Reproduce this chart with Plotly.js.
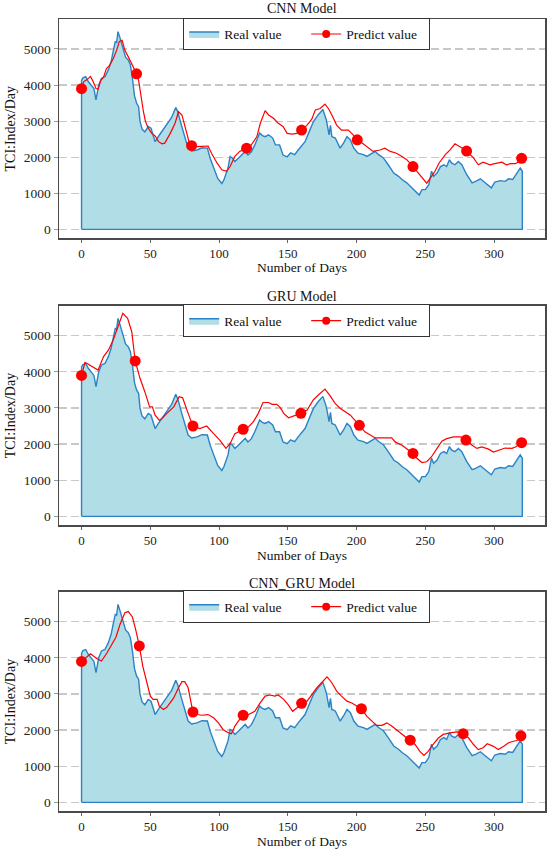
<!DOCTYPE html>
<html>
<head>
<meta charset="utf-8">
<script src="https://cdn.plot.ly/plotly-3.0.1.min.js"></script>
<style>html,body{margin:0;padding:0;background:#fff;} #chart{width:550px;height:851px;}</style>
</head>
<body>
<div id="chart"></div>
<script>
// ---------------- DATA ----------------
const realDays = [0,1,3,5,7,9,10.5,12.5,14.5,17,19.5,21.5,23,24.5,25.5,26.5,28,30,32,34,35.5,37,38.5,40,41.5,42.5,44,46,48.5,50.5,53.5,56,58.5,62,65.5,68.5,70,72.5,75,77.5,80,84,87.5,91.5,93.5,96,99,102,103.5,106.5,108,109.5,111.5,114,116.5,119,121,123.5,126,129.5,131.5,133.5,136,139,141,144,146.5,149.5,152,155,157.5,160,162.5,165,168.5,172,175.5,178,180,181,182,184.5,188,190.5,193,195.5,198,201,205,207.5,211,213.5,216,219.5,223,227,230.5,233,236.5,240,244,245.5,247.5,250,252.5,254.5,256,258.5,261,263.5,265.5,267.5,269,271.5,274,276.5,280,284,286.5,290,293.5,298,300.5,304.5,308,310.5,313.5,316,319,320.5];
const realVals = [4130,4200,4230,4090,3980,3900,3590,4000,4190,4230,4420,4650,4930,5200,5180,5480,5300,5030,4770,4690,4560,4190,3700,3500,3400,3000,2780,2700,2850,2800,2430,2580,2710,2900,3100,3380,3250,2900,2550,2250,2170,2200,2260,2250,1970,1690,1410,1270,1370,1700,2020,1980,1880,1970,2060,2160,2060,2150,2340,2670,2600,2570,2620,2530,2340,2340,2060,2010,2120,2070,2200,2300,2430,2660,2980,3170,3320,3030,2620,2880,2570,2530,2250,2390,2570,2480,2250,2110,2070,2020,2110,2160,2070,1980,1790,1560,1470,1380,1290,1150,1010,950,1100,1100,1240,1610,1470,1560,1740,1790,1740,1930,1840,1790,1880,1790,1520,1290,1330,1400,1290,1150,1310,1350,1330,1400,1380,1520,1700,1610];

const cnnDays = [0,1.5,4,6.5,8.5,10.5,12,14,16,18,20.5,23,25.5,27.5,29.5,31.5,34,36.5,38.5,40,41.5,43,45,46.5,48.5,51,53.5,56,58.5,60.5,64.5,68,70.5,73,74,76.5,78,80,84,87.5,92,94.5,98.5,102,105.5,108,111.5,115,120,123.5,127.5,130,132,133.5,136,139.5,143,146.5,149.5,153,156.5,160,164,167.5,170,173.5,177,179.5,182,185.5,189,194,197.5,200.5,204,207.5,212,217,220.5,224.5,229,233,236.5,241,245,248.5,251,254.5,257,260,264.5,268,271.5,275.5,280,285,288.5,292,297,300.5,305.5,309,312,315.5,318,320];
const cnnVals = [3900,4090,4150,4240,4090,3900,3880,4130,4220,4450,4550,4730,4960,5210,5240,4960,4780,4590,4420,4310,4130,3720,3260,2990,2800,2660,2590,2430,2370,2390,2660,2940,3260,3170,3030,2660,2450,2320,2290,2300,2310,2110,1840,1650,1610,1740,2020,2160,2250,2340,2570,2940,3170,3290,3170,3080,2940,2850,2660,2640,2660,2750,2890,3060,3310,3350,3470,3350,3170,2890,2750,2750,2620,2480,2390,2290,2160,2200,2250,2160,2110,2020,1930,1740,1560,1380,1280,1470,1610,1840,2070,2200,2370,2280,2170,1980,1790,1860,1790,1820,1860,1790,1820,1820,1880,1970];
const cnnMarkDays = [0,40,80,120,160,200.5,241,280,320];

const gruDays = [0,2.5,4,12,16,19.5,23,27,30,33.5,36.5,39,42.5,46,49.5,51.5,53.5,56.5,58.5,62,67,71,73.5,77.5,81,86,91,96,100.5,105,108,111.5,117.5,121.5,125,128.5,132,136,138.5,142,144.5,147,150.5,154,159.5,164,168.5,172,177,180.5,184.5,188,193,195.5,202,206,210,213.5,225.5,228,233,236.5,241,244,247.5,251,254.5,258.5,262,265.5,270.5,275.5,279.5,284,287.5,291,296,299.5,303,308,313,315.5,320];
const gruVals = [3900,4260,4230,4050,4420,4600,4880,5300,5620,5480,5110,4300,3820,3450,3030,3030,2800,2660,2710,2850,3030,3310,3280,2850,2500,2430,2500,2290,2110,1880,2010,2290,2410,2480,2620,2850,3150,3150,3100,3100,3010,2850,2730,2780,2850,2940,3220,3350,3520,3350,3120,2990,2850,2800,2520,2340,2250,2170,2170,2060,1970,1880,1740,1600,1490,1510,1650,1880,2080,2150,2200,2200,2110,1970,1880,1920,1860,1780,1830,1890,1880,1920,2040];
const gruMarkDays = [0,39,81,117.5,159.5,202,241,279.5,320];

const cgDays = [0,2.5,6.5,11,14.5,18.5,22,25,28,31.5,34,37,39.5,42,44.5,47.5,50,52,55,56.5,59.5,62,67,70.5,73,75,77.5,81,84,87.5,92,96,99.5,103,107,109,111.5,114,117.5,121.5,126,129.5,133.5,137,140.5,143,147,150.5,153.5,156.5,160,164,167.5,171,174.5,178.5,182,185.5,189,193,196.5,203.5,207.5,211,214.5,218.5,222,225.5,229,233,239,242.5,246,249,252,255.5,259.5,263,268,273,277.5,281.5,285,288.5,292,295,299.5,303,307,310.5,314,316.5,319.5];
const cgVals = [3900,3980,4110,3980,3910,4140,4390,4570,4930,5250,5280,5130,4760,4330,3770,3310,2940,2850,2850,2660,2570,2630,2890,3170,3340,3340,3170,2500,2430,2410,2430,2340,2200,2010,1920,1900,2110,2250,2410,2430,2520,2730,2940,2970,2940,2970,2850,2690,2520,2610,2740,2800,2990,3170,3310,3470,3310,3080,2940,2800,2750,2590,2380,2250,2130,2130,2200,2110,2010,1880,1720,1600,1410,1300,1410,1600,1780,1880,1920,1950,1900,1780,1600,1460,1510,1620,1550,1460,1550,1650,1690,1710,1840];
const cgMarkDays = [0,42,81,117.5,160,203.5,239,277.5,319.5];

const panelTitles = ['CNN Model', 'GRU Model', 'CNN_GRU Model'];
const xTickVals = [0,50,100,150,200,250,300];
const yTickVals = [0,1000,2000,3000,4000,5000];
const seriesNames = ['Real value', 'Predict value'];
const xTitle = 'Number of Days';
const yTitle = 'TCI:Index/Day';

// ---------------- STYLE / LAYOUT ----------------
const W = 550, H = 851;
const FONT = 'Liberation Serif, Times New Roman, DejaVu Serif, serif';
const BLUE = '#2c82c6', FILL = '#b0dde6', RED = '#ff0000';
const py = p => 1 - p / H;
const px = p => p / W;

const preds = [
  {days: cnnDays, vals: cnnVals, marks: cnnMarkDays},
  {days: gruDays, vals: gruVals, marks: gruMarkDays},
  {days: cgDays, vals: cgVals, marks: cgMarkDays}
];
const frames = [
  {top: 19, bottom: 238, titleY: 8.5},
  {top: 305.7, bottom: 525, titleY: 296.3},
  {top: 591.7, bottom: 811, titleY: 583}
];
const plotL = 59, plotR = 545;

const traces = [];
const layout = {
  width: W, height: H,
  margin: {l: 0, r: 0, t: 0, b: 0},
  paper_bgcolor: '#fff', plot_bgcolor: '#fff',
  font: {family: FONT, color: '#111'},
  showlegend: true,
  annotations: []
};

preds.forEach((p, i) => {
  const n = i + 1;
  const xa = 'x' + (n === 1 ? '' : n), ya = 'y' + (n === 1 ? '' : n);
  const lg = 'legend' + (n === 1 ? '' : n);
  const last = realDays.length - 1;
  traces.push({
    x: [realDays[0]].concat(realDays, [realDays[last], realDays[0]]),
    y: [0].concat(realVals, [0, 0]),
    mode: 'lines', fill: 'toself', fillcolor: FILL,
    line: {color: BLUE, width: 1.4},
    name: seriesNames[0], legend: lg, xaxis: xa, yaxis: ya, hoverinfo: 'skip'
  });
  traces.push({
    x: p.days, y: p.vals, mode: 'lines',
    line: {color: RED, width: 1.2},
    showlegend: false, xaxis: xa, yaxis: ya, hoverinfo: 'skip'
  });
  const mx = [], my = [];
  p.days.forEach((d, k) => { if (p.marks.indexOf(d) >= 0) { mx.push(d); my.push(p.vals[k]); } });
  traces.push({
    x: mx, y: my, mode: 'markers',
    marker: {color: RED, size: 11},
    showlegend: false, xaxis: xa, yaxis: ya, hoverinfo: 'skip'
  });
  traces.push({
    x: [null], y: [null], mode: 'lines+markers',
    line: {color: RED, width: 1.2}, marker: {color: RED, size: 8},
    name: seriesNames[1], legend: lg, xaxis: xa, yaxis: ya
  });

  const f = frames[i];
  const dom = [py(f.bottom), py(f.top)];
  layout['xaxis' + (n === 1 ? '' : n)] = {
    domain: [px(plotL), px(plotR)], anchor: ya,
    range: [-16.4, 337], tickvals: xTickVals, ticktext: xTickVals.map(String),
    ticks: 'outside', ticklen: 3, tickwidth: 1, tickcolor: '#666',
    showgrid: false, zeroline: false,
    showline: true, mirror: true, linecolor: '#4a4a4a', linewidth: 1.5,
    tickfont: {family: FONT, size: 13, color: '#222'}
  };
  layout['yaxis' + (n === 1 ? '' : n)] = {
    domain: dom, anchor: xa,
    range: [-240, 5830], tickvals: yTickVals, ticktext: yTickVals.map(String),
    ticks: 'outside', ticklen: 4, tickwidth: 1, tickcolor: '#999',
    showgrid: true, gridcolor: '#c8c8c8', gridwidth: 1.2, griddash: '8px,4px',
    zeroline: false,
    showline: true, mirror: true, linecolor: '#4a4a4a', linewidth: 1.5,
    tickfont: {family: FONT, size: 13.5, color: '#222'}
  };
  layout[lg] = {
    orientation: 'h', x: px(183), y: py(f.top - 1.5), xanchor: 'left', yanchor: 'top',
    bgcolor: '#fff', bordercolor: '#333', borderwidth: 1.2,
    entrywidth: 77, entrywidthmode: 'pixels',
    font: {family: FONT, size: 13.5, color: '#111'},
    traceorder: 'normal'
  };
  layout.annotations.push({
    text: panelTitles[i], xref: 'paper', yref: 'paper',
    x: px((plotL + plotR) / 2), y: py(f.titleY), xanchor: 'center', yanchor: 'middle',
    showarrow: false, font: {family: FONT, size: 14, color: '#111'}
  });
  layout.annotations.push({
    text: xTitle, xref: 'paper', yref: 'paper',
    x: px((plotL + plotR) / 2), y: py(f.bottom + 30), xanchor: 'center', yanchor: 'middle',
    showarrow: false, font: {family: FONT, size: 13.5, color: '#111'}
  });
  layout.annotations.push({
    text: yTitle, xref: 'paper', yref: 'paper', textangle: -90,
    x: px(10), y: py((f.top + f.bottom) / 2), xanchor: 'center', yanchor: 'middle',
    showarrow: false, font: {family: FONT, size: 14, color: '#111'}
  });
});

Plotly.newPlot('chart', traces, layout, {staticPlot: true, displayModeBar: false});
</script>
</body>
</html>
